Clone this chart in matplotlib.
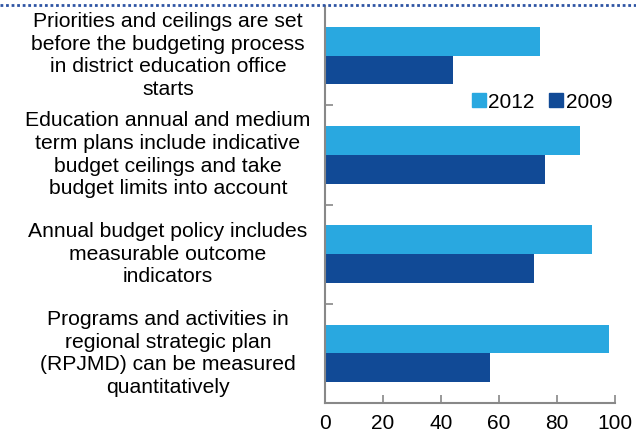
import matplotlib
matplotlib.use("Agg")
import matplotlib.pyplot as plt
from matplotlib.lines import Line2D
from matplotlib.transforms import blended_transform_factory

plt.rcParams['font.family'] = ['Liberation Sans', 'DejaVu Sans']

categories = [
    "Priorities and ceilings are set\nbefore the budgeting process\nin district education office\nstarts",
    "Education annual and medium\nterm plans include indicative\nbudget ceilings and take\nbudget limits into account",
    "Annual budget policy includes\nmeasurable outcome\nindicators",
    "Programs and activities in\nregional strategic plan\n(RPJMD) can be measured\nquantitatively",
]
values_2012 = [74, 88, 92, 98]
values_2009 = [44, 76, 72, 57]
series_names = ["2012", "2009"]
x_ticks = [0, 20, 40, 60, 80, 100]

c2012 = "#29A8E0"
c2009 = "#114A96"

W, H = 636, 442
fig = plt.figure(figsize=(W / 100, H / 100), dpi=100)
ax = fig.add_axes([325 / W, 1 - 403 / H, 290 / W, 397 / H])

n = len(categories)
ypos = list(range(n))
bh = 0.29
ax.barh([y - bh / 2 for y in ypos], values_2012, height=bh, color=c2012, label=series_names[0])
ax.barh([y + bh / 2 for y in ypos], values_2009, height=bh, color=c2009, label=series_names[1])

ax.set_ylim(n - 0.5, -0.5)
ax.set_xlim(0, 100)
ax.set_xticks(x_ticks)
ax.set_xticklabels([str(t) for t in x_ticks], fontsize=15)
ax.set_yticks([i + 0.5 for i in range(n - 1)])
ax.set_yticklabels([])
for s in ["top", "right"]:
    ax.spines[s].set_visible(False)
for s in ["left", "bottom"]:
    ax.spines[s].set_color("#888888")
    ax.spines[s].set_linewidth(1.5)
ax.tick_params(axis="x", direction="in", length=6, width=1.2, color="#888888", pad=8)
ax.tick_params(axis="y", direction="in", length=6, width=1.2, color="#888888")

trans = blended_transform_factory(fig.transFigure, ax.transData)
for i, lab in enumerate(categories):
    ax.text(168 / W, i, lab, transform=trans, ha="center", va="center",
            multialignment="center", fontsize=15.2, linespacing=1.25)

handles = [Line2D([], [], marker="s", linestyle="none", markersize=10, color=c2012),
           Line2D([], [], marker="s", linestyle="none", markersize=10, color=c2009)]
fig.legend(handles, series_names, loc="center", bbox_to_anchor=(542 / W, 1 - 102 / H),
           ncol=2, frameon=False, fontsize=15, handlelength=0.7, handletextpad=0.1,
           columnspacing=0.7, borderpad=0)

fig.add_artist(Line2D([0.0, 1.0], [1 - 5 / H, 1 - 5 / H], transform=fig.transFigure,
                      color="#2F55A4", linestyle=(0, (1, 1)), linewidth=2))

fig.savefig("out.png", dpi=100)
